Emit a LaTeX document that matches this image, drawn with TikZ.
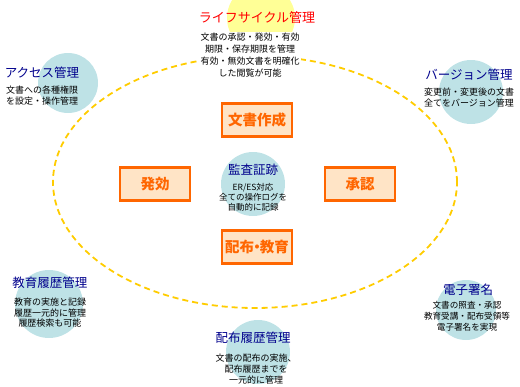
\documentclass[tikz,border=0pt]{standalone}
\usepackage{fontspec}
\setmainfont{Noto Sans CJK JP}
\usetikzlibrary{positioning}
\definecolor{ringline}{RGB}{255,204,0}
\definecolor{bubblefill}{RGB}{190,226,230}
\definecolor{sunfill}{RGB}{255,255,150}
\definecolor{stageline}{RGB}{255,102,0}
\definecolor{stagefill}{RGB}{255,228,198}
\definecolor{navy}{RGB}{0,0,140}

\begin{document}
\begin{tikzpicture}[
    x=1pt, y=-1pt,
    bubble/.style={circle, fill=bubblefill, inner sep=0pt},
    topic/.style={font=\fontsize{12.5}{14}\selectfont, text=navy, inner sep=1pt},
    note/.style={font=\fontsize{9}{11}\selectfont, align=center, inner sep=1pt},
    stagebox/.style={draw=stageline, line width=2.5pt, fill=stagefill,
        minimum width=70pt, minimum height=33pt, inner sep=2pt,
        font=\fontsize{14.5}{16}\selectfont\bfseries, text=stageline}
]
    \useasboundingbox (0,0) rectangle (520,386);

    % lifecycle ring
    \draw[ringline, line width=1.8pt, dash pattern=on 6pt off 4pt]
        (255,182) ellipse (202pt and 126pt);

    \node[bubble, fill=sunfill, minimum size=68pt] (lifebg) at (261,18) {};
    \node[topic, text=red, font=\fontsize{13}{15}\selectfont] (life) at (257,18) {ライフサイクル管理};
    \node[note, fill=white, font=\fontsize{9}{12}\selectfont] (lifenote) at (250,55)
        {文書の承認・発効・有効\\期限・保存期限を管理\\有効・無効文書を明確化\\した閲覧が可能};

    \node[bubble, minimum size=60pt] (accessbg) at (68,83) {};
    \node[topic] (access) at (42,73) {アクセス管理};
    \node[note] (accessnote) at (42,96) {文書への各種権限\\を設定・操作管理};

    \node[bubble, minimum size=64pt] (versionbg) at (471,92) {};
    \node[topic] (version) at (469,75) {バージョン管理};
    \node[note] (versionnote) at (469,98) {変更前・変更後の文書\\全てをバージョン管理};

    \node[bubble, minimum size=64pt] (auditbg) at (253,184) {};
    \node[topic] (audit) at (253,170) {監査証跡};
    \node[note, font=\fontsize{8.5}{9.8}\selectfont] (auditnote) at (253,197)
        {ER/ES対応\\全ての操作ログを\\自動的に記録};

    \node[stagebox] (create) at (257,120) {文書作成};
    \node[stagebox] (issue) at (155,184) {発効};
    \node[stagebox] (approve) at (360,184) {承認};
    \node[stagebox] (deliver) at (257,247) {配布{\kern-0.3em}・{\kern-0.3em}教育};

    \node[bubble, minimum size=68pt] (trainbg) at (49,304) {};
    \node[topic] (train) at (50,283) {教育履歴管理};
    \node[note, font=\fontsize{9}{10.5}\selectfont] (trainnote) at (50,313)
        {教育の実施と記録\\履歴一元的に管理\\履歴検索も可能};

    \node[bubble, minimum size=60pt] (signbg) at (466,310) {};
    \node[topic] (sign) at (468,290) {電子署名};
    \node[note, font=\fontsize{8.6}{11}\selectfont] (signnote) at (467,316)
        {文書の照査・承認\\教育受講・配布受領等\\電子署名を実現};

    \node[bubble, minimum size=64pt] (distbg) at (258,352) {};
    \node[topic] (dist) at (253,338) {配布履歴管理};
    \node[note] (distnote) at (256,369) {文書の配布の実施、\\配布履歴までを\\一元的に管理};
\end{tikzpicture}
\end{document}
